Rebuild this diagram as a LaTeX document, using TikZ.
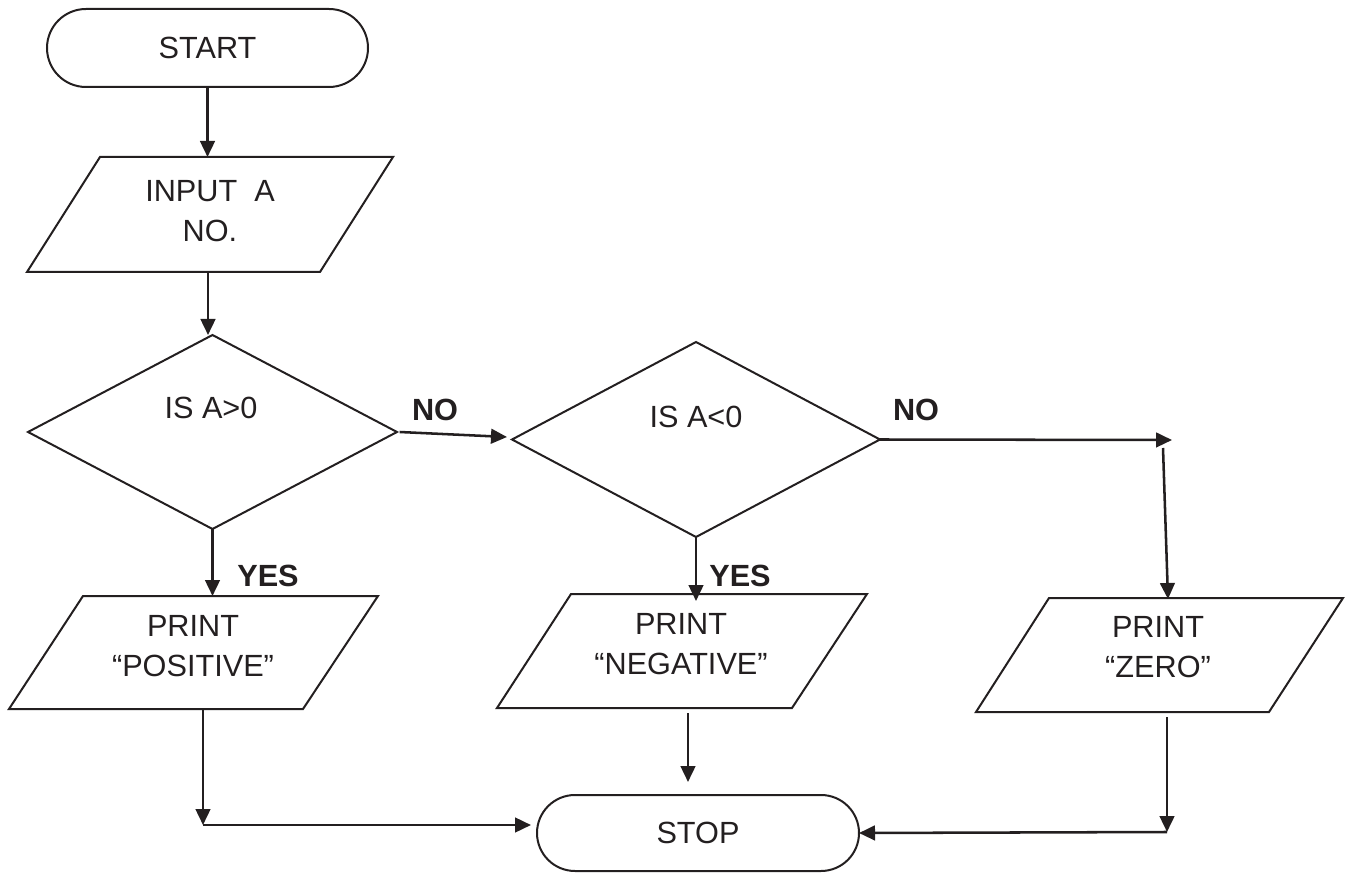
\documentclass[tikz,border=0pt]{standalone}
\usepackage{fontspec}
\setmainfont{Liberation Sans}
\usetikzlibrary{shapes.geometric,arrows.meta}
\definecolor{ink}{HTML}{231F20}
\begin{document}
\begin{tikzpicture}[x=0.75pt,y=-0.75pt,color=ink,
  shapeline/.style={line width=1.5pt},
  term/.style={shapeline,draw,rectangle,inner sep=0pt,outer sep=0pt,font=\fontsize{23}{30}\selectfont},
  dec/.style={shapeline,draw,diamond,inner sep=0pt,outer sep=0pt},
  txt/.style={font=\fontsize{23}{30}\selectfont,align=center,inner sep=0pt},
  lab/.style={font=\fontsize{23}{30}\selectfont\bfseries,inner sep=0pt},
  conn/.style={line width=1.9pt,-{Triangle[length=12pt,width=11pt]}},
  plainline/.style={line width=1.9pt}
]
\useasboundingbox (0,0) rectangle (1345,873);

% START
\node[term,minimum width=240.75pt,minimum height=58.5pt,rounded corners=29.25pt] (start) at (207.5,48) {START};

% INPUT
\draw[shapeline] (100,157) -- (393,157) -- (320,272) -- (27,272) -- cycle;
\node[txt] (input) at (210,211) {INPUT\ \ A\\NO.};
\coordinate (inT) at (207.5,157);
\coordinate (inB) at (208,272);
\draw[conn] (start.south) -- (inT);

% Decision 1
\node[dec,minimum width=276.75pt,minimum height=145.5pt] (d1) at (212.5,432) {};
\node[txt] (t1) at (211,408) {IS A>0};
\draw[conn] (inB) -- (inB |- d1.north);

% Decision 2
\node[dec,minimum width=276pt,minimum height=146.25pt] (d2) at (696,439.5) {};
\node[txt] (t2) at (696,417) {IS A<0};

% NO from d1
\coordinate (no1end) at (507,437);
\draw[conn] ([xshift=2pt]d1.east) -- (no1end);
\node[lab] (no1) at (435,410) {NO};

% PRINT POSITIVE
\draw[shapeline] (83,596) -- (378,596) -- (303,709) -- (9,709) -- cycle;
\node[txt] (pos) at (193,646.5) {PRINT\\“POSITIVE”};
\coordinate (posT) at (212.5,596);
\coordinate (posB) at (203,709);
\draw[conn] (d1.south) -- (posT);
\node[lab] (yes1) at (268,576) {YES};

% PRINT NEGATIVE
\draw[shapeline] (571,594) -- (867,594) -- (792,708) -- (497,708) -- cycle;
\node[txt] (neg) at (681,644) {PRINT\\“NEGATIVE”};
\coordinate (negT) at (696,601);
\coordinate (negB) at (688,713);
\coordinate (negOut) at (688,782);
\draw[conn] (d2.south) -- (negT);
\node[lab] (yes2) at (740,576) {YES};

% NO from d2
\coordinate (no2end) at (1172,440);
\draw[conn] (d2.east) -- (no2end);
\node[lab] (no2) at (916,410) {NO};

% PRINT ZERO
\draw[shapeline] (1049,598) -- (1343,598) -- (1269,712) -- (976,712) -- cycle;
\node[txt] (zero) at (1158,647.5) {PRINT\\“ZERO”};
\coordinate (zs) at (1163,448);
\coordinate (zT) at (1168,599);
\coordinate (zB) at (1167,717);
\coordinate (zc) at (1167,832);
\draw[conn] (zs) -- (zT);

% STOP
\node[term,minimum width=241.5pt,minimum height=57pt,rounded corners=28.5pt] (stop) at (698,833) {STOP};

% to STOP
\coordinate (pc) at (203,825);
\draw[conn] (posB) -- (pc);
\draw[conn,shorten >=4.5pt] (pc) -- (pc -| stop.west);
\draw[conn] (negB) -- (negOut);
\draw[conn] (zB) -- (zc);
\draw[conn] (zc) -- (stop.east);
\end{tikzpicture}
\end{document}
